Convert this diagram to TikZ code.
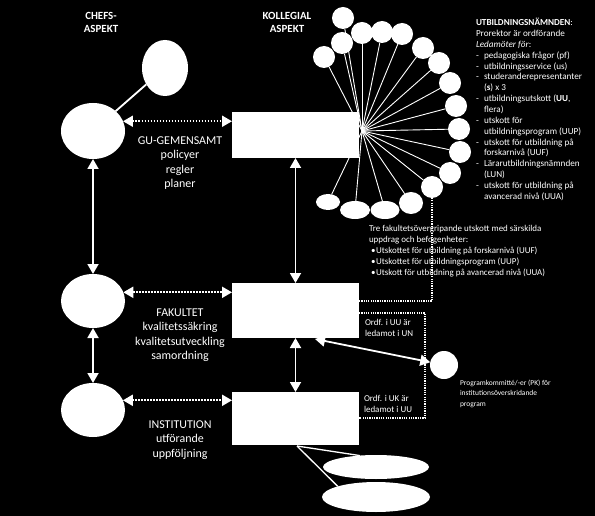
\documentclass[tikz,border=0pt]{standalone}
\usepackage{fontspec}
\setmainfont{Carlito}
\usetikzlibrary{arrows.meta,calc,shapes.geometric}
\newcommand\dsh{\makebox[8bp][l]{-}}
\newcommand\ind{\makebox[8bp][l]{}}
\newcommand\bul{\makebox[7bp][l]{\hspace{2bp}•}}
\begin{document}
\begin{tikzpicture}[x=1bp,y=-1bp,
  every node/.style={text=white, inner sep=0pt, outer sep=0pt},
  ell/.style n args={2}{ellipse, fill=white, minimum width=#1, minimum height=#2, inner sep=0pt},
  circ/.style={circle, fill=white, minimum size=22bp, inner sep=0pt},
  box/.style n args={2}{rectangle, fill=white, minimum width=#1, minimum height=#2},
  sarrow/.style={draw=white, line width=1.8bp, {Triangle[length=10bp,width=11bp]}-{Triangle[length=10bp,width=11bp]}},
  darrow/.style={sarrow, line width=2bp, dash pattern=on 1.7bp off 1.3bp},
  fan/.style={draw=white, line width=0.9bp},
  tdot/.style={draw=white, line width=1.2bp, dash pattern=on 1.2bp off 1.1bp},
  plain/.style={draw=white, line width=1.8bp},
  head/.style={font=\bfseries\fontsize{11}{14}\selectfont, align=center, anchor=base},
  lvl/.style={font=\fontsize{12}{14.5}\selectfont, align=center, anchor=base},
  small/.style={font=\fontsize{#1}{11}\selectfont, align=left, anchor=base west}
]
\fill[black] (0,0) rectangle (595,516);
\useasboundingbox (0,0) rectangle (595,516);

% headings (coordinates give the baseline of the last line)
\node[head] (chefs) at (101,33) {CHEFS-\\ASPEKT};
\node[head] (koll) at (287,33) {KOLLEGIAL\\ASPEKT};

% fan hub and lines (drawn first, shapes on top)
\coordinate (hub) at (362,131);
\node[circ] (c1) at (343,18) {};
\node[circ] (c2) at (342,43) {};
\node[circ] (c3) at (324,57) {};
\node[circ] (c4) at (362,33) {};
\node[circ] (c5) at (382,32) {};
\node[circ] (c6) at (402,34) {};
\node[circ] (c7) at (423,48) {};
\node[circ] (c8) at (439,63) {};
\node[circ] (c9) at (450,83) {};
\node[circ] (c10) at (456,106) {};
\node[circ] (c11) at (459,129) {};
\node[circ] (c12) at (460,152) {};
\node[circ] (c13) at (450,173) {};
\node[circ] (c14) at (432,187) {};
\node[ell={24bp}{16bp}] (e1) at (328,202) {};
\node[ell={30bp}{18bp}] (e2) at (355,210) {};
\node[ell={29bp}{18bp}] (e3) at (385,210) {};
\node[ell={24bp}{22bp}] (e4) at (411,203) {};
\foreach \n in {c1,c2,c3,c4,c5,c6,c7,c8,c9,c10,c11,c12,c13,c14,e1,e2,e3,e4}
  \draw[fan] (hub) -- (\n);

% chef ellipses
\node[ell={46bp}{56bp}] (top) at (165,68) {};
\node[ell={64bp}{56bp}] (guE) at (93,131) {};
\node[ell={64bp}{54bp}] (fakE) at (93,301) {};
\node[ell={64bp}{54bp}] (instE) at (93,410) {};
\draw[plain] (top) -- (guE);

% collegial boxes
\node[box={127bp}{46bp}] (guR) at (295.5,135) {};
\node[box={127bp}{55bp}] (fakR) at (295.5,310.5) {};
\node[box={127bp}{53bp}] (instR) at (295.5,418.5) {};

% level texts
\node[lvl] (guT) at (180,187.5) {GU-GEMENSAMT\\policyer\\regler\\planer};
\node[lvl] (fakT) at (180,359.5) {FAKULTET\\kvalitetssäkring\\kvalitetsutveckling\\samordning};
\node[lvl] (instT) at (180,457) {INSTITUTION\\utförande\\uppföljning};

% arrows
\draw[sarrow] (guE.south) -- (fakE.north);
\draw[sarrow] (fakE.south) -- (instE.north);
\draw[sarrow] (guR.south) -- (fakR.north);
\draw[sarrow] (fakR.south) -- (instR.north);
\draw[darrow] (guE.18) -- (guE.18 -| guR.west);
\draw[darrow] (fakE.16) -- (fakE.16 -| fakR.west);
\draw[darrow] (instE.18) -- (instE.18 -| instR.west);

% PK
\node[circ, minimum size=28bp] (pk) at (444,365) {};
\coordinate (pkA) at (315,339);
\draw[sarrow] (pkA) -- (pk);

% dotted connectors
\coordinate (fd) at (359,301);
\draw[tdot] (c14.south) |- (fd);
\coordinate (b1) at (359,313);
\coordinate (b2) at (425,313);
\coordinate (b3) at (425,418);
\coordinate (b4) at (359,418);
\draw[tdot] (b1) -- (b2) -- (b3) -- (b4);

% institution ellipses
\node[ell={106bp}{24bp}] (ell1) at (376,467) {};
\node[ell={108bp}{30bp}] (ell2) at (376,497) {};
\coordinate (ib) at (297,446);
\draw[fan, line width=1.3bp] (ib) -- ($(ell1.center)+(-16,-11.4)$);
\draw[fan, line width=1.3bp] (ib) -- (ell2.north west);

% texts right
\node[small=9.2, font=\fontsize{9.2}{10.9}\selectfont] (un) at (476,199.4) {\textbf{UTBILDNINGSNÄMNDEN}:\\Prorektor är ordförande\\\textit{Ledamöter för}:\\\dsh pedagogiska frågor (pf)\\\dsh utbildningsservice (us)\\\dsh studeranderepresentanter\\\ind(\textbf{s}) x 3\\\dsh utbildningsutskott (\textbf{UU},\\\ind flera)\\\dsh utskott för\\\ind utbildningsprogram (UUP)\\\dsh utskott för utbildning på\\\ind forskarnivå (UUF)\\\dsh Lärarutbildningsnämnden\\\ind(LUN)\\\dsh utskott för utbildning på\\\ind avancerad nivå (UUA)};
\node[small=9] (tre) at (369,275) {Tre fakultetsövergripande utskott med särskilda\\uppdrag och befogenheter:\\\bul Utskottet för utbildning på forskarnivå (UUF)\\\bul Utskottet för utbildningsprogram (UUP)\\\bul Utskott för utbildning på avancerad nivå (UUA)};
\node[small=9] (o1) at (365,336) {Ordf. i UU är\\ledamot i UN};
\node[small=9] (o2) at (364,412) {Ordf. i UK är\\ledamot i UU};
\node[small=7.5, font=\fontsize{7.5}{10.8}\selectfont] (pkT) at (460,406.6) {Programkommitté/-er (PK) för\\institutionsöverskridande\\program};
\end{tikzpicture}
\end{document}
